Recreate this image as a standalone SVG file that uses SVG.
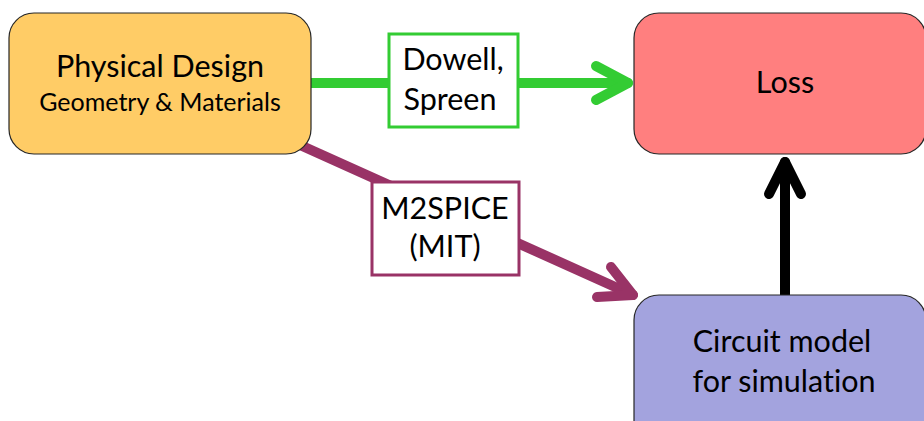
<svg xmlns="http://www.w3.org/2000/svg" width="924" height="421" viewBox="0 0 924 421">
<style>
text{font-family:Lato,"Noto Sans","Liberation Sans",sans-serif;fill:#000;text-anchor:middle;font-variant-ligatures:none}
.big{font-size:30.5px}
.small{font-size:25px}
.node{stroke:#262626;stroke-width:1.2}
.ln{fill:none;stroke-width:10;stroke-linecap:round;stroke-linejoin:round}
.lbl{fill:#fff;stroke-width:3}
</style>
<rect width="924" height="421" fill="#fff"/>
<g id="connectors">
<path class="ln" stroke="#33CC33" d="M311 83H628"/>
<path class="ln" stroke="#33CC33" d="M596 66L628 83L596 100"/>
<path class="ln" stroke="#993366" d="M300 145L633 295"/>
<path class="ln" stroke="#993366" d="M611 267L633 295L597 297"/>
<path class="ln" stroke="#000" d="M785 296V162"/>
<path class="ln" stroke="#000" d="M769 194L785 162L801 194"/>
<g id="label-dowell">
<rect class="lbl" stroke="#33CC33" x="389" y="34" width="129" height="93"/>
<text class="big" x="453" y="70">Dowell,</text>
<text class="big" x="450" y="110">Spreen</text>
</g>
<g id="label-m2spice">
<rect class="lbl" stroke="#993366" x="372" y="182" width="147" height="93"/>
<text class="big" x="445" y="219">M2SPICE</text>
<text class="big" x="445" y="257">(MIT)</text>
</g>
</g>
<g id="physical-design">
<rect class="node" fill="#FFCC66" x="9" y="13" width="302" height="141" rx="25"/>
<text class="big" x="160" y="77">Physical Design</text>
<text class="small" x="160" y="111">Geometry &amp; Materials</text>
</g>
<g id="loss">
<rect class="node" fill="#FF7F7F" x="634" y="13" width="292" height="141" rx="25"/>
<text class="big" x="785" y="93">Loss</text>
</g>
<g id="circuit-model">
<rect class="node" fill="#A3A3DE" x="634" y="295" width="292" height="150" rx="25"/>
<text class="big" x="782" y="352">Circuit model</text>
<text class="big" x="784" y="392">for simulation</text>
</g>
</svg>
